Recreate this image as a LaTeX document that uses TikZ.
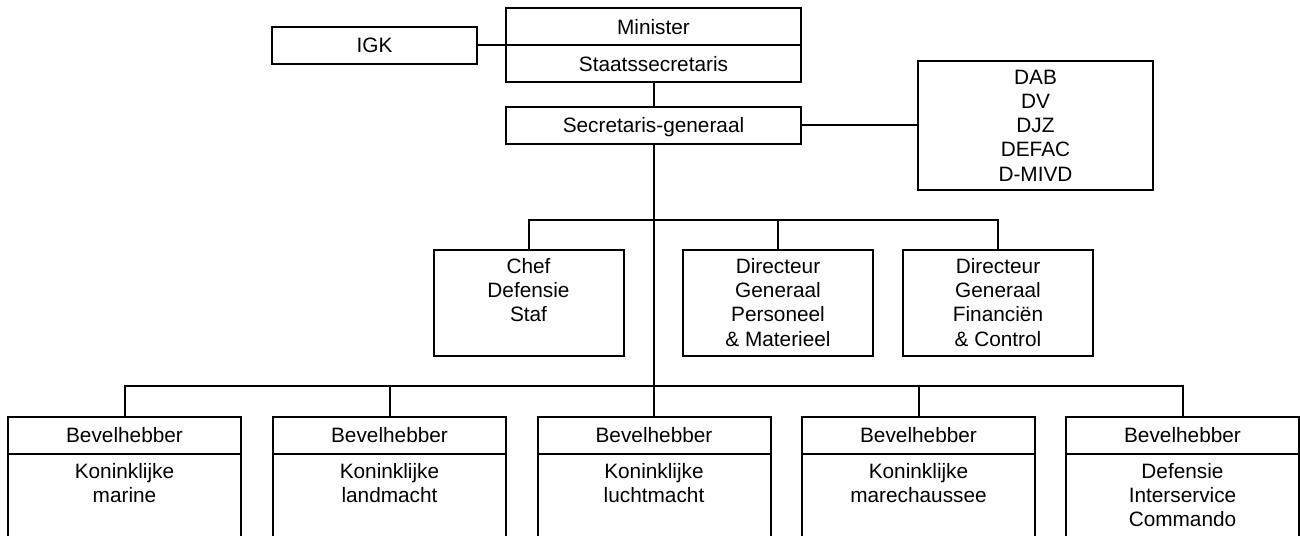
\documentclass[tikz,border=0pt]{standalone}
\usepackage{fontspec}
\setmainfont{Liberation Sans}
\usetikzlibrary{positioning}

\newcommand{\orgfont}{\fontsize{10.4}{12.15}\selectfont}
\tikzstyle{unit}=[draw,line width=1pt,outer sep=0pt,inner sep=0pt,font=\orgfont,text height=7.45pt,text depth=0pt,minimum height=18.5pt]
\tikzstyle{staff}=[draw,line width=1pt,outer sep=0pt,inner sep=0pt,minimum width=95pt,minimum height=53pt]
\tikzstyle{body}=[draw,line width=1pt,outer sep=0pt,inner sep=0pt,minimum width=116.5pt,minimum height=80pt]
\tikzstyle{lines}=[font=\orgfont,align=center,inner sep=0pt]
\tikzstyle{edge}=[draw,line width=1pt,-]

\begin{document}
\begin{tikzpicture}[x=0.5pt,y=-0.5pt]
  \useasboundingbox (0,0) rectangle (1300,535);
  \clip (0,0) rectangle (1300,535);

  % Minister and the staff around the secretary-general
  \node[unit,minimum width=147.5pt] (min) at (653.5,27) {Minister};
  \node[unit,minimum width=147.5pt,below=0pt of min] (sts) {Staatssecretaris};
  \node[unit,minimum width=102.5pt] (igk) at (374.5,45.5) {IGK};
  \node[unit,minimum width=147.5pt] (sg) at (653.5,125.5) {Secretaris-generaal};
  \node[lines,draw,line width=1pt,outer sep=0pt,minimum width=117.5pt,minimum height=64.5pt] (dab) at (1035.5,125.5) {DAB\\DV\\DJZ\\DEFAC\\D-MIVD};

  % The three staff boxes
  \foreach \pos/\name/\txt in {{(528.5,303)/cds/{Chef\\Defensie\\Staf}}, {(778,303)/dgpm/{Directeur\\Generaal\\Personeel\\\& Materieel}}, {(998,303)/dgfc/{Directeur\\Generaal\\Financiën\\\& Control}}} {
    \node[staff] (\name) at \pos {};
    \node[lines,anchor=north] (\name-txt) at ([yshift=-3.9pt]\name.north) {\txt};
  }

  % The five commands, cut off at the bottom
  \foreach \x/\name/\txt in {124.5/marine/{Koninklijke\\marine}, 389.5/landmacht/{Koninklijke\\landmacht}, 654/luchtmacht/{Koninklijke\\luchtmacht}, 918.5/kmar/{Koninklijke\\marechaussee}, 1182.5/dic/{Defensie\\Interservice\\Commando}} {
    \node[unit,minimum width=116.5pt] (\name) at (\x,435.5) {Bevelhebber};
    \node[body,below=0pt of \name] (\name-body) {};
    \node[lines,anchor=north] (\name-txt) at ([yshift=-4.4pt]\name.south) {\txt};
  }

  % Connect boxes with lines
  \coordinate (midbus) at (653.5,220);
  \coordinate (botbus) at (653.5,386);
  \path[edge] (igk) -- (min.south west);
  \path[edge] (sts) -- (sg);
  \path[edge] (sg) -- (dab);
  \path[edge] (sg.south) -- (botbus);
  \path[edge] (cds) |- (midbus) -| (dgfc);
  \path[edge] (dgpm) -- (dgpm |- midbus);
  \path[edge] (marine) |- (botbus) -| (dic);
  \foreach \name in {landmacht, luchtmacht, kmar}
    \path[edge] (\name) -- (\name |- botbus);
\end{tikzpicture}
\end{document}
